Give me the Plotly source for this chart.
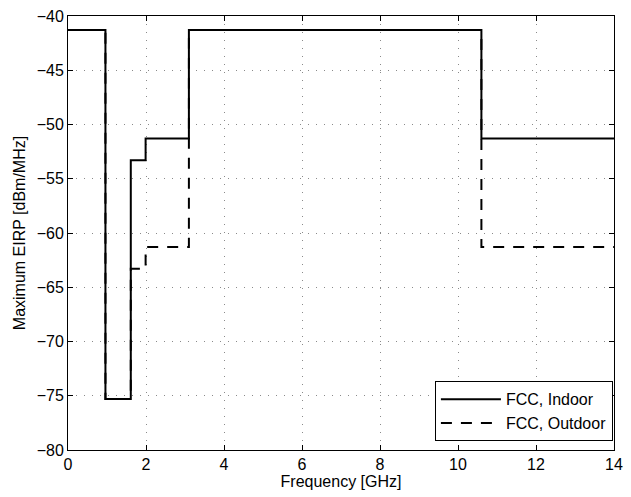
import plotly.graph_objects as go

freq_edges = [0, 0.96, 1.61, 1.99, 3.1, 10.6, 14]
indoor = [-41.3, -75.3, -53.3, -51.3, -41.3, -51.3, -51.3]
outdoor = [-41.3, -75.3, -63.3, -61.3, -41.3, -61.3, -61.3]
x_ticks = [0, 2, 4, 6, 8, 10, 12, 14]
y_ticks = [-80, -75, -70, -65, -60, -55, -50, -45, -40]
y_tick_text = ["\u221280", "\u221275", "\u221270", "\u221265", "\u221260",
               "\u221255", "\u221250", "\u221245", "\u221240"]

fig = go.Figure()
fig.add_trace(go.Scatter(x=freq_edges, y=indoor, mode="lines", name="FCC, Indoor",
                         line=dict(color="black", width=2, shape="hv")))
fig.add_trace(go.Scatter(x=freq_edges, y=outdoor, mode="lines", name="FCC, Outdoor",
                         line=dict(color="black", width=2, shape="hv", dash="11px,9px")))

axis_common = dict(showline=True, linecolor="black", linewidth=1, mirror="ticks",
                   ticks="inside", ticklen=5, tickcolor="black",
                   showgrid=True, gridcolor="#8a8a8a", griddash="1px,7px", gridwidth=1,
                   zeroline=False, tickfont=dict(size=16, color="black"))

fig.update_layout(
    width=631, height=497,
    margin=dict(l=68, r=8, t=11, b=47),
    plot_bgcolor="white", paper_bgcolor="white",
    font=dict(family="Liberation Sans, Arial, sans-serif", color="black"),
    xaxis=dict(range=[0, 14], tickvals=x_ticks,
               title=dict(text="Frequency [GHz]", font=dict(size=16), standoff=0), **axis_common),
    yaxis=dict(range=[-80, -40], tickvals=y_ticks, ticktext=y_tick_text,
               title=dict(text="Maximum EIRP [dBm/MHz]", font=dict(size=16), standoff=7), **axis_common),
    legend=dict(x=0.998, y=0.02, xanchor="right", yanchor="bottom",
                bordercolor="black", borderwidth=1, bgcolor="white",
                font=dict(size=16), itemwidth=60, tracegroupgap=0),
    showlegend=True,
)

fig.write_html("out.html")
